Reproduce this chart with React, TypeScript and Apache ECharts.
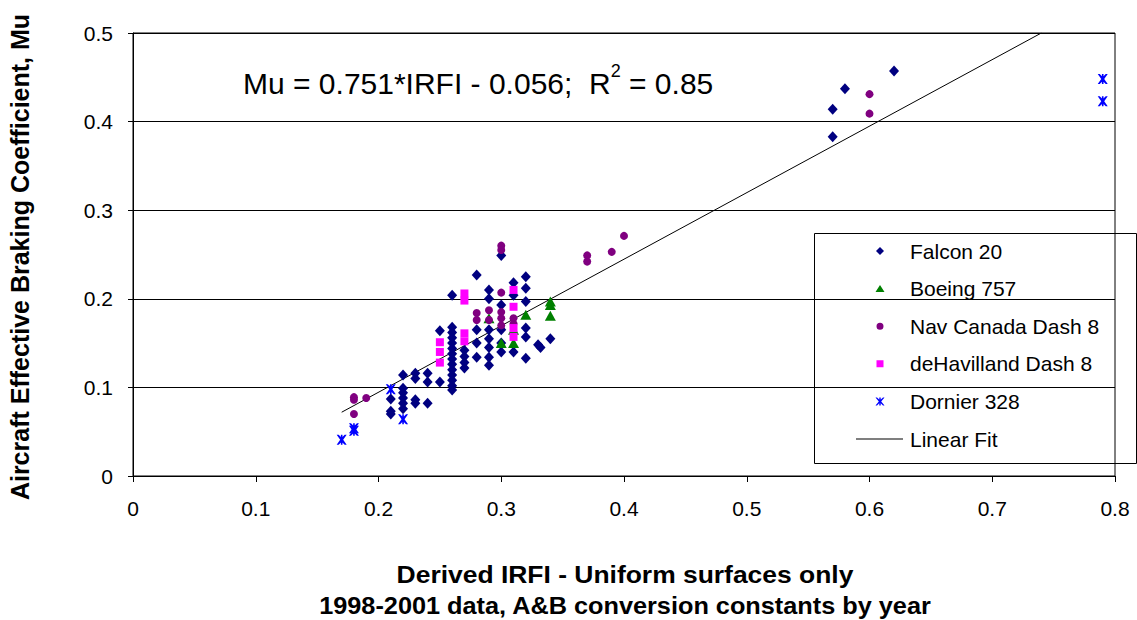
import React, { useEffect, useRef } from "react";
import * as echarts from "echarts";

const xTicks = [0, 0.1, 0.2, 0.3, 0.4, 0.5, 0.6, 0.7, 0.8];
const yTicks = [0, 0.1, 0.2, 0.3, 0.4, 0.5];

const falcon20: number[][] = [
  [0.21, 0.087], [0.21, 0.073], [0.21, 0.070],
  [0.22, 0.114], [0.22, 0.099], [0.22, 0.094], [0.22, 0.088], [0.22, 0.082], [0.22, 0.076],
  [0.23, 0.116], [0.23, 0.110], [0.23, 0.086], [0.23, 0.082],
  [0.24, 0.116], [0.24, 0.106], [0.24, 0.082],
  [0.25, 0.164], [0.25, 0.106],
  [0.26, 0.204], [0.26, 0.168], [0.26, 0.162], [0.26, 0.156], [0.26, 0.150], [0.26, 0.144],
  [0.26, 0.138], [0.26, 0.132], [0.26, 0.126], [0.26, 0.120], [0.26, 0.114], [0.26, 0.108],
  [0.26, 0.102], [0.26, 0.097],
  [0.27, 0.142], [0.27, 0.135], [0.27, 0.128], [0.27, 0.122],
  [0.28, 0.227], [0.28, 0.165], [0.28, 0.150], [0.28, 0.134],
  [0.29, 0.210], [0.29, 0.200], [0.29, 0.165], [0.29, 0.155], [0.29, 0.145], [0.29, 0.134], [0.29, 0.125],
  [0.30, 0.249], [0.30, 0.193], [0.30, 0.165], [0.30, 0.150], [0.30, 0.140],
  [0.31, 0.218], [0.31, 0.204], [0.31, 0.140],
  [0.32, 0.225], [0.32, 0.212], [0.32, 0.197], [0.32, 0.167], [0.32, 0.157], [0.32, 0.133],
  [0.33, 0.148], [0.332, 0.145],
  [0.34, 0.155],
  [0.57, 0.383], [0.57, 0.414], [0.58, 0.437], [0.62, 0.457],
];

const boeing757: number[][] = [
  [0.29, 0.178], [0.30, 0.150], [0.31, 0.150], [0.31, 0.165],
  [0.32, 0.182], [0.34, 0.197], [0.34, 0.193], [0.34, 0.181],
];

const navCanadaDash8: number[][] = [
  [0.18, 0.089], [0.18, 0.086], [0.19, 0.088], [0.18, 0.070],
  [0.28, 0.184], [0.28, 0.176], [0.29, 0.187], [0.29, 0.176],
  [0.30, 0.260], [0.30, 0.255], [0.30, 0.207], [0.30, 0.185], [0.30, 0.178], [0.30, 0.170],
  [0.31, 0.178], [0.31, 0.172],
  [0.37, 0.249], [0.37, 0.242], [0.39, 0.253], [0.40, 0.271],
  [0.60, 0.431], [0.60, 0.409],
];

const deHavillandDash8: number[][] = [
  [0.25, 0.151], [0.25, 0.140], [0.25, 0.128],
  [0.27, 0.206], [0.27, 0.198], [0.27, 0.161], [0.27, 0.152],
  [0.31, 0.210], [0.31, 0.191], [0.31, 0.167], [0.31, 0.157],
];

const dornier328: number[][] = [
  [0.17, 0.041], [0.18, 0.051], [0.18, 0.054], [0.21, 0.098], [0.22, 0.064],
  [0.79, 0.448], [0.79, 0.423],
];

const linearFit: number[][] = [
  [0.17, 0.072], [0.740, 0.5],
];

const FONT = "Arial, 'Liberation Sans', sans-serif";
const STAR =
  "path://M0,0 L2,0 L5,3 L8,0 L10,0 L6.5,5 L10,10 L8,10 L5,7 L2,10 L0,10 L3.5,5 Z M4.2,0 L5.8,0 L5.8,10 L4.2,10 Z";

// legend icons: a 47x10 box (degenerate corner sub-paths keep the box) with a small centred marker
const BOX = "M0,0 L0,0.01 L0.01,0 Z M47,10 L47,9.99 L46.99,10 Z ";
const LEG_DIAMOND = "path://" + BOX + "M24,1 L28,5 L24,9 L20,5 Z";
const LEG_TRIANGLE = "path://" + BOX + "M24,1.5 L28.5,8.5 L19.5,8.5 Z";
const LEG_CIRCLE =
  "path://" + BOX + "M27.5,5 A3.5,3.5 0 1 1 20.5,5 A3.5,3.5 0 1 1 27.5,5 Z";
const LEG_SQUARE = "path://" + BOX + "M20.5,1.5 L27.5,1.5 L27.5,8.5 L20.5,8.5 Z";
const LEG_STAR =
  "path://" + BOX +
  "M19.5,1 L21,1 L24,3.8 L27,1 L28.5,1 L25.2,5 L28.5,9 L27,9 L24,6.2 L21,9 L19.5,9 L22.8,5 Z M23.3,1 L24.7,1 L24.7,9 L23.3,9 Z";
const LEG_LINE = "path://" + BOX + "M0,4.5 L47,4.5 L47,5.5 L0,5.5 Z";

export default function App() {
  const ref = useRef<HTMLDivElement>(null);
  useEffect(() => {
    if (!ref.current) return;
    const chart = echarts.init(ref.current, null, { renderer: "svg" });
    const axisLabel = { color: "#000", fontSize: 21, fontFamily: FONT };
    chart.setOption({
      animation: false,
      backgroundColor: "#fff",
      grid: {
        left: 133, right: 22, top: 33, bottom: 144,
        show: true, borderColor: "#000", borderWidth: 1,
      },
      xAxis: {
        type: "value", min: xTicks[0], max: xTicks[xTicks.length - 1], interval: 0.1,
        axisLine: { lineStyle: { color: "#000", width: 1 } },
        axisTick: { show: true, length: 6, lineStyle: { color: "#000" } },
        splitLine: { show: false },
        axisLabel: { ...axisLabel, margin: 22, formatter: (v: number) => String(+v.toFixed(1)) },
      },
      yAxis: {
        type: "value", min: yTicks[0], max: yTicks[yTicks.length - 1], interval: 0.1,
        axisLine: { show: true, lineStyle: { color: "#000", width: 1 } },
        axisTick: { show: true, length: 5, lineStyle: { color: "#000" } },
        splitLine: { show: true, lineStyle: { color: "#000", width: 1 } },
        axisLabel: { ...axisLabel, margin: 20, formatter: (v: number) => String(+v.toFixed(1)) },
      },
      legend: {
        orient: "vertical",
        left: 856, top: 240,
        padding: 0,
        itemWidth: 47, itemHeight: 10, itemGap: 15.6,
        textStyle: { color: "#000", fontSize: 21, fontFamily: FONT, lineHeight: 22, padding: [0, 0, 0, 2] },
        data: [
          { name: "Falcon 20", icon: LEG_DIAMOND },
          { name: "Boeing 757", icon: LEG_TRIANGLE },
          { name: "Nav Canada Dash 8", icon: LEG_CIRCLE },
          { name: "deHavilland Dash 8", icon: LEG_SQUARE },
          { name: "Dornier 328", icon: LEG_STAR },
          { name: "Linear Fit", icon: LEG_LINE },
        ],
      },
      graphic: [
        {
          type: "rect", left: 814, top: 233, z: -1,
          shape: { width: 322, height: 230 },
          style: { fill: "#fff", stroke: "#000", lineWidth: 1 },
        },
        {
          type: "text", left: 243, top: 62,
          style: {
            text: "{a|Mu = 0.751*IRFI - 0.056;  R}{s|2}{a| = 0.85}",
            rich: {
              a: { fontSize: 30, fontFamily: FONT, fill: "#000", verticalAlign: "bottom", lineHeight: 36 },
              s: { fontSize: 18, fontFamily: FONT, fill: "#000", verticalAlign: "top", lineHeight: 36, padding: [0, 0, 14, 0] },
            },
          },
        },
        {
          type: "text", x: 20, y: 257, rotation: Math.PI / 2,
          style: {
            text: "Aircraft Effective Braking Coefficient, Mu",
            fontSize: 25, fontWeight: "bold", fontFamily: FONT, fill: "#000",
            align: "center", verticalAlign: "middle",
          },
        },
        {
          type: "text", x: 625, y: 575,
          style: {
            text: "Derived IRFI - Uniform surfaces only",
            fontSize: 23, fontWeight: "bold", fontFamily: FONT, fill: "#000",
            align: "center", verticalAlign: "middle",
          },
          scaleX: 1.15,
        },
        {
          type: "text", x: 625, y: 606,
          style: {
            text: "1998-2001 data, A&B conversion constants by year",
            fontSize: 23, fontWeight: "bold", fontFamily: FONT, fill: "#000",
            align: "center", verticalAlign: "middle",
          },
          scaleX: 1.1,
        },
      ],
      series: [
        {
          name: "Falcon 20", type: "scatter", data: falcon20,
          symbol: "diamond", symbolSize: [10, 11], itemStyle: { color: "#000080", opacity: 1 },
        },
        {
          name: "Boeing 757", type: "scatter", data: boeing757,
          symbol: "triangle", symbolSize: [11, 10], itemStyle: { color: "#008000", opacity: 1 },
        },
        {
          name: "Nav Canada Dash 8", type: "scatter", data: navCanadaDash8,
          symbol: "circle", symbolSize: 8, itemStyle: { color: "#800080", opacity: 1 },
        },
        {
          name: "deHavilland Dash 8", type: "scatter", data: deHavillandDash8,
          symbol: "rect", symbolSize: 8, itemStyle: { color: "#FF00FF", opacity: 1 },
        },
        {
          name: "Dornier 328", type: "scatter", data: dornier328,
          symbol: STAR, symbolSize: 10, itemStyle: { color: "#0000FF", opacity: 1 },
        },
        {
          name: "Linear Fit", type: "line", data: linearFit,
          showSymbol: false, symbol: "none",
          lineStyle: { color: "#000", width: 1 }, itemStyle: { color: "#000" },
          z: 1,
        },
      ],
    });
    return () => chart.dispose();
  }, []);
  return <div ref={ref} style={{ position: "absolute", left: 0, top: 0, width: 1137, height: 620 }} />;
}
